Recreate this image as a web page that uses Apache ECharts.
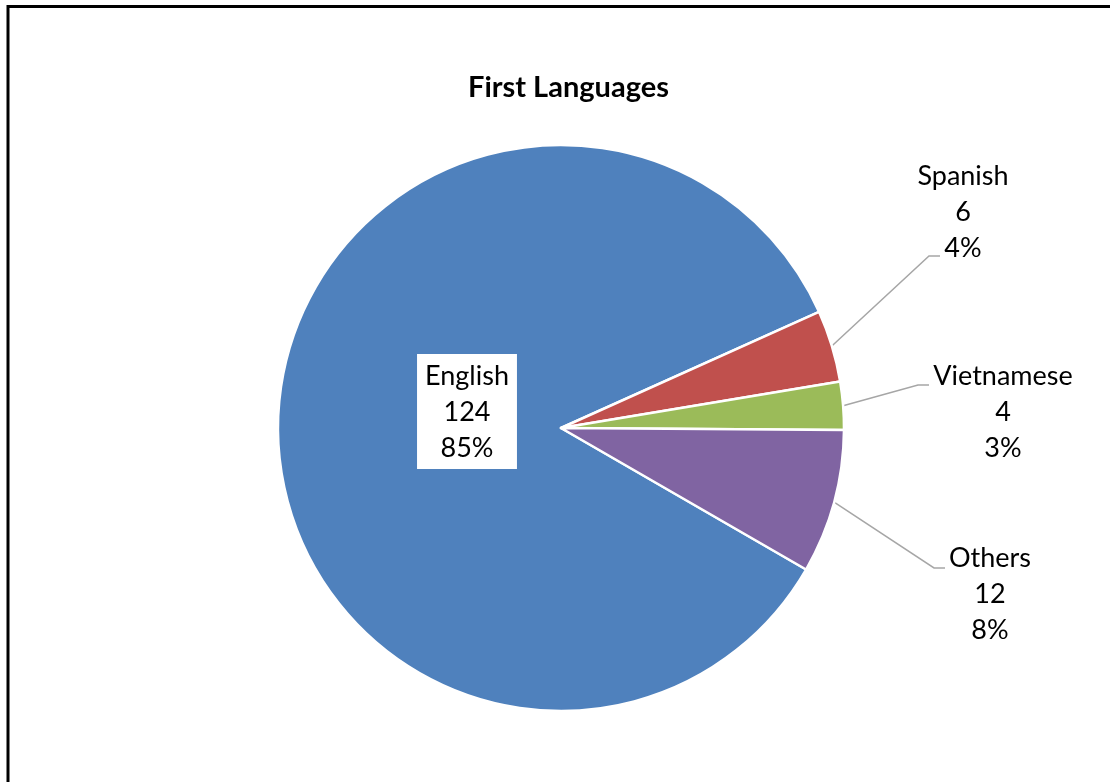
<!DOCTYPE html>
<html>
<head>
<meta charset="utf-8">
<title>First Languages</title>
<script src="https://cdn.jsdelivr.net/npm/echarts@6/dist/echarts.min.js"></script>
<style>
    html, body {margin: 0; padding: 0; background: #fff;}
    #main {width: 1110px; height: 782px;}
</style>
</head>
<body>
<div id="main"></div>
<script>
var languages = ['English', 'Spanish', 'Vietnamese', 'Others'];
var speakers = [124, 6, 4, 12];
var sliceColors = ['#4F81BD', '#C0504D', '#9BBB59', '#8064A2'];

// label spots as in the original sheet: centre x, top y, end of the leader line
var labelSpots = [
    {x: 467, y: 354},
    {x: 963, y: 158, lineEnd: [940, 256]},
    {x: 1003, y: 358, lineEnd: [929, 385]},
    {x: 990, y: 540, lineEnd: [945, 568]}
];

var labelFont = 'Lato, "Open Sans", sans-serif';

var pieData = [];
for (var i = 0; i < languages.length; i++) {
    var item = {name: languages[i], value: speakers[i], itemStyle: {color: sliceColors[i]}};
    if (i == 0) {
        item.label = {position: 'inside', backgroundColor: '#fff', padding: [4, 8, 3, 8]};
        item.labelLine = {show: false};
    }
    pieData.push(item);
}

var myChart = echarts.init(document.getElementById('main'));
var option = {
    animation: false,
    backgroundColor: '#fff',
    title: {
        text: 'First Languages',
        left: 463,
        top: 66,
        textStyle: {fontFamily: labelFont, fontSize: 29, fontWeight: 'bold', color: '#000', lineHeight: 34}
    },
    graphic: [{
        type: 'rect',
        shape: {x: 8, y: 6.5, width: 1300, height: 1000},
        style: {fill: null, stroke: '#000', lineWidth: 3},
        silent: true
    }],
    series: [{
        type: 'pie',
        center: [561, 428],
        radius: 283,
        startAngle: -30,
        clockwise: true,
        percentPrecision: 0,
        avoidLabelOverlap: false,
        itemStyle: {borderColor: '#fff', borderWidth: 2.5},
        label: {
            show: true,
            position: 'outside',
            formatter: '{b}\n{c}\n{d}%',
            color: '#000',
            fontFamily: labelFont,
            fontSize: 27,
            lineHeight: 36,
            align: 'center'
        },
        labelLine: {
            show: true,
            length: 30,
            length2: 12,
            lineStyle: {color: '#A6A6A6', width: 1.5}
        },
        labelLayout: function (params) {
            var spot = labelSpots[params.dataIndex];
            var out = {x: spot.x, y: spot.y, align: 'center', verticalAlign: 'top'};
            if (spot.lineEnd && params.labelLinePoints) {
                out.labelLinePoints = [
                    params.labelLinePoints[0],
                    [spot.lineEnd[0] - 11, spot.lineEnd[1]],
                    spot.lineEnd
                ];
            }
            return out;
        },
        emphasis: {disabled: true},
        data: pieData
    }]
};
myChart.setOption(option);
</script>
</body>
</html>
